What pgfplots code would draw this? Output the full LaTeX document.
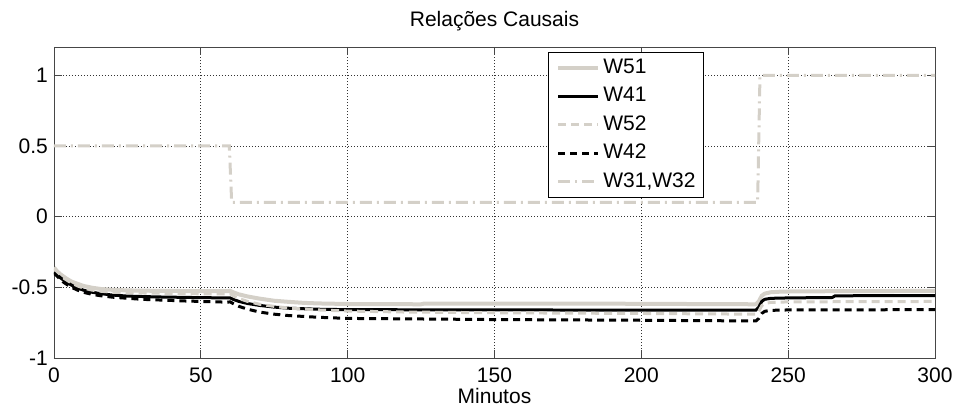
\documentclass[border=0pt]{standalone}
\usepackage{fontspec}
\setmainfont{Liberation Sans}
\usepackage{pgfplots}
\pgfplotsset{compat=1.18}

\definecolor{lightline}{RGB}{212,208,200}
\definecolor{frame}{RGB}{70,70,70}

\begin{document}
\fontsize{21bp}{25bp}\selectfont
\begin{tikzpicture}
\path[use as bounding box] (-54bp,-49bp) rectangle (899bp,358bp);
\begin{axis}[
  at={(0,0)}, anchor=south west,
  scale only axis,
  width=881bp, height=311bp,
  xmin=0, xmax=300, ymin=-1, ymax=1.2,
  xtick={0,50,100,150,200,250,300},
  xticklabels={0,50,100,150,200,250,300},
  ytick={-1,-0.5,0,0.5,1},
  yticklabels={-1,-0.5,0,0.5,1},
  tick align=inside,
  major tick length=8bp,
  every tick/.style={frame, line width=0.8bp},
  axis line style={frame, line width=0.8bp},
  xticklabel style={inner sep=0pt, anchor=north, yshift=-10bp},
  yticklabel style={inner sep=0pt, anchor=east, xshift=-6bp},
  grid=major,
  major grid style={black!80, line width=0.7bp, dash pattern=on 0.8bp off 2.2bp},
  title={Relações Causais},
  title style={at={(0.5,1)}, anchor=base, yshift=15bp, inner sep=0pt},
  xlabel={Minutos},
  xlabel style={at={(0.5,0)}, anchor=base, yshift=-45bp, inner sep=0pt},
  legend cell align=left,
  legend image code/.code={\draw[#1] (0bp,0bp) -- (40bp,0bp);},
  legend style={at={(0.5607,0.984)}, anchor=north west,
    draw=black, line width=0.8bp, fill=white,
    inner xsep=8bp, inner ysep=6bp, column sep=3bp, row sep=9.5bp,
    nodes={inner sep=0pt, text height=15bp, text depth=4bp}},
]
% W51
\addplot[lightline, line width=4bp] coordinates {
 (0,-0.36)(1,-0.385)(2,-0.405)(3,-0.42)(4,-0.435)(6,-0.46)(8,-0.475)(10,-0.49)
 (13,-0.503)(16,-0.512)(20,-0.518)(25,-0.522)(35,-0.525)(50,-0.527)(59,-0.527)
 (60,-0.525)(61,-0.535)(63,-0.55)(66,-0.565)(70,-0.58)(75,-0.595)(80,-0.603)
 (85,-0.61)(90,-0.614)(100,-0.618)(125,-0.62)(126,-0.615)(180,-0.615)(239,-0.62)
 (240,-0.60)(241,-0.56)(242,-0.545)(244,-0.535)(248,-0.53)(260,-0.528)(300,-0.525)};
\addlegendentry{W51}
% W41
\addplot[black, line width=3bp] coordinates {
 (0,-0.39)(1,-0.41)(2,-0.43)(3,-0.445)(4,-0.46)(6,-0.485)(8,-0.505)(10,-0.52)
 (13,-0.535)(16,-0.545)(20,-0.555)(25,-0.562)(35,-0.568)(50,-0.573)(59,-0.575)
 (60,-0.575)(61,-0.585)(63,-0.60)(66,-0.615)(70,-0.628)(75,-0.64)(80,-0.648)
 (90,-0.655)(100,-0.658)(150,-0.66)(239,-0.662)(240,-0.64)(241,-0.60)(242,-0.585)
 (244,-0.578)(250,-0.575)(265,-0.572)(266,-0.56)(300,-0.558)};
\addlegendentry{W41}
% W52
\addplot[lightline, line width=3bp, dash pattern=on 8bp off 5bp] coordinates {
 (0,-0.37)(1,-0.39)(2,-0.41)(3,-0.43)(4,-0.445)(6,-0.47)(8,-0.49)(10,-0.505)
 (13,-0.52)(16,-0.528)(20,-0.535)(30,-0.54)(45,-0.545)(59,-0.547)(60,-0.545)
 (61,-0.56)(63,-0.58)(66,-0.60)(70,-0.62)(75,-0.635)(80,-0.647)(90,-0.66)
 (100,-0.668)(120,-0.675)(150,-0.68)(200,-0.685)(239,-0.69)(240,-0.67)(241,-0.63)
 (242,-0.615)(244,-0.607)(250,-0.603)(300,-0.60)};
\addlegendentry{W52}
% W42
\addplot[black, line width=3bp, dash pattern=on 7bp off 5bp] coordinates {
 (0,-0.40)(1,-0.42)(2,-0.44)(3,-0.46)(4,-0.475)(6,-0.50)(8,-0.52)(10,-0.535)
 (13,-0.55)(16,-0.56)(20,-0.57)(30,-0.585)(45,-0.597)(59,-0.605)(60,-0.603)
 (61,-0.615)(63,-0.635)(66,-0.655)(70,-0.675)(75,-0.69)(80,-0.70)(90,-0.712)
 (100,-0.72)(150,-0.728)(200,-0.733)(239,-0.738)(240,-0.72)(241,-0.685)(242,-0.67)
 (244,-0.663)(250,-0.66)(300,-0.658)};
\addlegendentry{W42}
% W31, W32
\addplot[lightline, line width=3bp, dash pattern=on 12bp off 5bp on 2bp off 5bp] coordinates {
 (0,0.5)(59.7,0.5)(60.5,0.1)(239.6,0.1)(240.4,1)(300,1)};
\addlegendentry{W31,W32}
\end{axis}
\end{tikzpicture}
\end{document}
